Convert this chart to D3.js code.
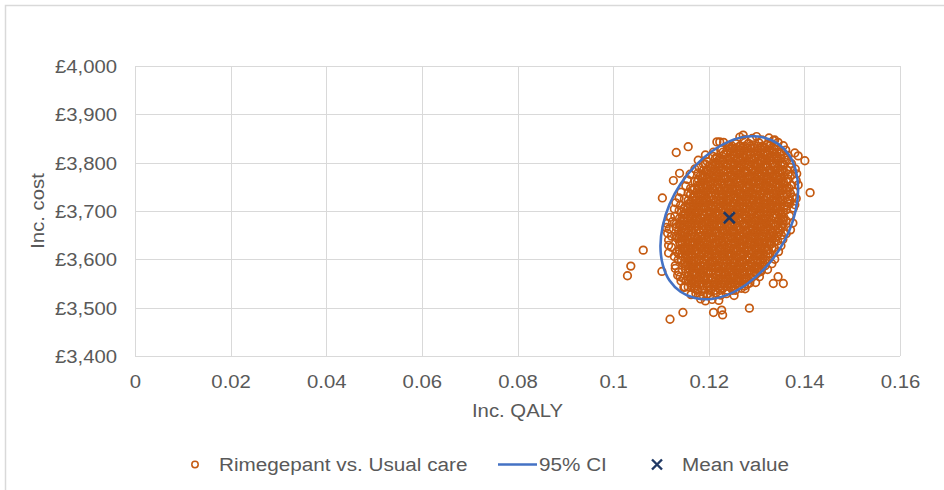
<!DOCTYPE html>
<html><head><meta charset="utf-8">
<script src="https://cdn.jsdelivr.net/npm/d3@7"></script>
<style>
html,body{margin:0;padding:0;background:#fff;}
svg{display:block;font-family:"Liberation Sans",Arial,sans-serif;}
</style></head>
<body><svg id="chart" width="944" height="490"></svg>
<script>
const xTicks = [0,0.02,0.04,0.06,0.08,0.1,0.12,0.14,0.16];
const yTicks = [3400,3500,3600,3700,3800,3900,4000];
const seriesNames = ["Rimegepant vs. Usual care","95% CI","Mean value"];
const meanQaly = [0.1243];
const meanCost = [3686];
const ciQaly = [0.1387,0.1382,0.1368,0.1345,0.1315,0.1280,0.1243,0.1206,0.1171,0.1141,0.1118,0.1104,0.1099,0.1104,0.1118,0.1141,0.1171,0.1206,0.1243,0.1280,0.1315,0.1345,0.1368,0.1382];
const ciCost = [3745,3784,3816,3839,3852,3854,3844,3823,3793,3756,3714,3670,3627,3588,3556,3533,3520,3518,3528,3549,3579,3616,3658,3702];
// simulated points [Inc. QALY, Inc. cost]
const samples = [
[0.1265,3853],[0.1274,3848],[0.1291,3850],[0.1300,3854],[0.1311,3847],[0.1326,3851],[0.1335,3846],
[0.1231,3842],[0.1242,3835],[0.1257,3839],[0.1266,3834],[0.1283,3840],[0.1294,3837],[0.1305,3841],[0.1322,3838],[0.1329,3836],[0.1345,3842],[0.1356,3835],
[0.1210,3822],[0.1227,3828],[0.1238,3825],[0.1249,3829],[0.1266,3826],[0.1273,3824],[0.1289,3830],[0.1300,3823],[0.1310,3827],[0.1327,3825],[0.1337,3828],[0.1351,3822],[0.1361,3826],
[0.1193,3816],[0.1209,3813],[0.1217,3811],[0.1232,3817],[0.1244,3810],[0.1253,3814],[0.1271,3812],[0.1280,3815],[0.1295,3809],[0.1304,3813],[0.1322,3816],[0.1331,3811],[0.1343,3814],[0.1358,3810],[0.1366,3815],
[0.1178,3805],[0.1188,3798],[0.1197,3802],[0.1215,3800],[0.1224,3803],[0.1239,3797],[0.1248,3801],[0.1266,3804],[0.1275,3799],[0.1287,3802],[0.1302,3798],[0.1310,3803],[0.1327,3804],[0.1337,3799],[0.1353,3801],[0.1363,3805],[0.1373,3798],
[0.1171,3787],[0.1180,3790],[0.1195,3784],[0.1204,3788],[0.1222,3791],[0.1231,3786],[0.1243,3789],[0.1258,3785],[0.1266,3790],[0.1283,3791],[0.1293,3786],[0.1309,3788],[0.1319,3792],[0.1329,3785],[0.1345,3789],[0.1353,3784],[0.1371,3790],[0.1381,3787],
[0.1161,3776],[0.1178,3779],[0.1188,3774],[0.1199,3777],[0.1215,3773],[0.1222,3778],[0.1240,3779],[0.1249,3774],[0.1266,3776],[0.1275,3780],[0.1286,3773],[0.1301,3777],[0.1310,3772],[0.1327,3778],[0.1338,3775],[0.1349,3779],[0.1366,3776],[0.1373,3774],[0.1384,3777],
[0.1155,3765],[0.1171,3761],[0.1178,3766],[0.1196,3767],[0.1205,3762],[0.1222,3764],[0.1231,3768],[0.1242,3761],[0.1257,3765],[0.1266,3763],[0.1283,3766],[0.1294,3760],[0.1305,3764],[0.1322,3767],[0.1329,3762],[0.1345,3765],[0.1356,3761],[0.1366,3766],[0.1383,3763],
[0.1152,3752],[0.1162,3747],[0.1178,3753],[0.1188,3750],[0.1198,3754],[0.1214,3751],[0.1222,3749],[0.1240,3755],[0.1250,3748],[0.1262,3752],[0.1278,3750],[0.1286,3753],[0.1301,3747],[0.1313,3751],[0.1322,3754],[0.1340,3749],[0.1349,3752],[0.1364,3748],[0.1373,3753],[0.1387,3754],
[0.1142,3739],[0.1157,3737],[0.1166,3743],[0.1183,3736],[0.1194,3740],[0.1205,3738],[0.1222,3741],[0.1229,3735],[0.1245,3739],[0.1256,3742],[0.1266,3737],[0.1283,3740],[0.1293,3736],[0.1307,3741],[0.1317,3742],[0.1334,3737],[0.1344,3739],[0.1355,3743],[0.1371,3736],[0.1378,3740],
[0.1138,3727],[0.1149,3725],[0.1166,3728],[0.1173,3722],[0.1189,3726],[0.1200,3729],[0.1210,3724],[0.1227,3727],[0.1237,3723],[0.1251,3728],[0.1261,3729],[0.1278,3724],[0.1288,3726],[0.1299,3730],[0.1315,3723],[0.1322,3727],[0.1340,3722],[0.1349,3728],[0.1366,3725],[0.1375,3729],[0.1383,3726],
[0.1131,3717],[0.1141,3712],[0.1158,3715],[0.1168,3711],[0.1182,3716],[0.1192,3717],[0.1209,3712],[0.1219,3714],[0.1230,3718],[0.1246,3711],[0.1253,3715],[0.1271,3710],[0.1280,3716],[0.1297,3713],[0.1306,3717],[0.1317,3714],[0.1332,3712],[0.1341,3718],[0.1358,3711],[0.1369,3715],[0.1380,3713],
[0.1128,3704],[0.1138,3701],[0.1148,3705],[0.1164,3702],[0.1172,3700],[0.1190,3706],[0.1200,3699],[0.1212,3703],[0.1228,3701],[0.1236,3704],[0.1251,3698],[0.1263,3702],[0.1272,3705],[0.1290,3700],[0.1299,3703],[0.1314,3699],[0.1323,3704],[0.1341,3705],[0.1350,3700],[0.1362,3702],[0.1377,3706],
[0.1120,3687],[0.1129,3689],[0.1147,3693],[0.1156,3686],[0.1168,3690],[0.1183,3685],[0.1191,3691],[0.1208,3688],[0.1218,3692],[0.1234,3689],[0.1244,3687],[0.1254,3693],[0.1270,3686],[0.1278,3690],[0.1296,3688],[0.1306,3691],[0.1318,3685],[0.1334,3689],[0.1342,3692],[0.1357,3687],[0.1369,3690],
[0.1113,3674],[0.1124,3678],[0.1140,3673],[0.1147,3679],[0.1165,3676],[0.1174,3680],[0.1191,3677],[0.1200,3675],[0.1211,3681],[0.1226,3674],[0.1235,3678],[0.1252,3676],[0.1263,3679],[0.1274,3673],[0.1291,3677],[0.1298,3680],[0.1314,3675],[0.1325,3678],[0.1335,3674],[0.1352,3679],[0.1362,3680],[0.1376,3675],
[0.1111,3666],[0.1117,3663],[0.1132,3667],[0.1144,3664],[0.1153,3662],[0.1171,3668],[0.1180,3661],[0.1195,3665],[0.1204,3663],[0.1222,3666],[0.1231,3660],[0.1243,3664],[0.1258,3667],[0.1266,3662],[0.1283,3665],[0.1293,3661],[0.1309,3666],[0.1319,3667],[0.1329,3662],[0.1345,3664],[0.1353,3668],[0.1371,3661],
[0.1114,3654],[0.1122,3648],[0.1140,3652],[0.1150,3655],[0.1162,3650],[0.1178,3653],[0.1186,3649],[0.1201,3654],[0.1213,3655],[0.1222,3650],[0.1240,3652],[0.1249,3656],[0.1264,3649],[0.1273,3653],[0.1291,3651],[0.1300,3654],[0.1312,3648],[0.1327,3652],[0.1335,3655],[0.1352,3650],[0.1362,3653],
[0.1116,3640],[0.1133,3644],[0.1143,3637],[0.1157,3641],[0.1167,3636],[0.1184,3642],[0.1194,3639],[0.1205,3643],[0.1221,3640],[0.1228,3638],[0.1246,3644],[0.1255,3637],[0.1272,3641],[0.1281,3639],[0.1292,3642],[0.1307,3636],[0.1316,3640],[0.1333,3643],[0.1344,3638],[0.1355,3641],
[0.1116,3629],[0.1122,3625],[0.1140,3631],[0.1149,3624],[0.1166,3628],[0.1175,3626],[0.1186,3629],[0.1201,3623],[0.1210,3627],[0.1227,3630],[0.1238,3625],[0.1249,3628],[0.1266,3624],[0.1273,3629],[0.1289,3630],[0.1300,3625],[0.1310,3627],[0.1327,3631],[0.1337,3624],[0.1351,3628],
[0.1116,3613],[0.1133,3616],[0.1144,3612],[0.1155,3617],[0.1172,3618],[0.1179,3613],[0.1195,3615],[0.1206,3619],[0.1216,3612],[0.1233,3616],[0.1243,3611],[0.1257,3617],[0.1267,3614],[0.1284,3618],[0.1294,3615],[0.1305,3613],[0.1321,3619],[0.1328,3612],[0.1346,3616],
[0.1128,3606],[0.1136,3599],[0.1151,3603],[0.1163,3598],[0.1172,3604],[0.1190,3601],[0.1199,3605],[0.1214,3602],[0.1223,3600],[0.1241,3606],[0.1250,3599],[0.1262,3603],[0.1277,3601],[0.1285,3604],[0.1302,3598],[0.1312,3602],[0.1328,3605],[0.1338,3600],
[0.1130,3587],[0.1147,3591],[0.1156,3589],[0.1167,3592],[0.1182,3586],[0.1191,3590],[0.1208,3593],[0.1219,3588],[0.1230,3591],[0.1247,3587],[0.1254,3592],[0.1270,3593],[0.1281,3588],[0.1291,3590],[0.1308,3594],[0.1318,3587],[0.1332,3591],
[0.1130,3581],[0.1137,3574],[0.1151,3580],[0.1161,3577],[0.1178,3581],[0.1188,3578],[0.1199,3576],[0.1215,3582],[0.1222,3575],[0.1240,3579],[0.1249,3577],[0.1266,3580],[0.1275,3574],[0.1286,3578],[0.1301,3581],[0.1310,3576],[0.1323,3579],
[0.1135,3567],[0.1147,3561],[0.1156,3565],[0.1168,3568],[0.1183,3563],[0.1191,3566],[0.1208,3562],[0.1218,3567],[0.1234,3568],[0.1244,3563],[0.1254,3565],[0.1270,3569],[0.1278,3562],[0.1296,3566],[0.1306,3564],
[0.1142,3555],[0.1152,3556],[0.1163,3551],[0.1174,3553],[0.1191,3557],[0.1198,3550],[0.1214,3554],[0.1225,3549],[0.1235,3555],[0.1252,3552],[0.1262,3556],[0.1276,3553],[0.1286,3551],[0.1298,3552],
[0.1148,3542],[0.1157,3543],[0.1169,3540],[0.1178,3538],[0.1196,3544],[0.1205,3537],[0.1220,3541],[0.1229,3539],[0.1247,3542],[0.1256,3536],[0.1268,3540],[0.1276,3539],
[0.1163,3527],[0.1173,3530],[0.1189,3524],[0.1197,3528],[0.1215,3531],[0.1225,3526],[0.1237,3529],[0.1253,3525],
[0.1183,3518],[0.1193,3514],[0.1207,3517],[0.1221,3515],
[0.1132,3821],[0.1157,3833],[0.1103,3727],[0.1063,3619],[0.1037,3586],[0.1030,3566],[0.1119,3476],[0.1146,3490],
[0.1210,3490],[0.1227,3495],[0.1229,3485],[0.1285,3499],[0.1412,3738],[0.1401,3804],[0.1380,3820],[0.1387,3814],
[0.1356,3550],[0.1345,3564],[0.1335,3550],[0.1272,3857],[0.1223,3843],[0.1217,3843],[0.1338,3847],[0.1102,3575],
[0.1140,3564],[0.1150,3543],[0.1168,3550],[0.1182,3526],[0.1203,3526],[0.1126,3763],[0.1139,3778]
];
// dense core of the cloud: [Inc. cost, [Inc. QALY ...]]
const coreRows = [
[3834,[0.1239,0.1249,0.1264,0.1275,0.1287,0.1301,0.1312,0.1326,0.1337]],
[3830,[0.1245,0.1256,0.1268,0.1281,0.1295,0.1306,0.1318,0.1331]],
[3822,[0.1230,0.1245,0.1256,0.1268,0.1282,0.1294,0.1307,0.1318,0.1332,0.1343]],
[3818,[0.1237,0.1251,0.1263,0.1274,0.1288,0.1301,0.1313,0.1324,0.1338,0.1350]],
[3809,[0.1214,0.1224,0.1239,0.1250,0.1262,0.1276,0.1288,0.1299,0.1314,0.1325,0.1337,0.1351]],
[3805,[0.1220,0.1231,0.1243,0.1257,0.1269,0.1280,0.1294,0.1307,0.1319,0.1330,0.1344]],
[3797,[0.1193,0.1207,0.1219,0.1230,0.1245,0.1256,0.1268,0.1282,0.1294,0.1307,0.1318,0.1332,0.1344,0.1355]],
[3793,[0.1201,0.1213,0.1224,0.1238,0.1251,0.1263,0.1274,0.1288,0.1301,0.1313,0.1324,0.1338,0.1351]],
[3784,[0.1189,0.1199,0.1214,0.1225,0.1237,0.1251,0.1263,0.1274,0.1289,0.1300,0.1312,0.1326,0.1338,0.1349,0.1364]],
[3780,[0.1195,0.1206,0.1218,0.1231,0.1245,0.1256,0.1268,0.1281,0.1295,0.1306,0.1318,0.1331,0.1345,0.1356]],
[3772,[0.1182,0.1193,0.1207,0.1219,0.1230,0.1245,0.1256,0.1268,0.1282,0.1294,0.1305,0.1320,0.1331,0.1343,0.1357]],
[3768,[0.1187,0.1200,0.1214,0.1225,0.1237,0.1250,0.1264,0.1275,0.1287,0.1300,0.1314,0.1325,0.1337,0.1350]],
[3760,[0.1176,0.1187,0.1201,0.1213,0.1224,0.1239,0.1250,0.1262,0.1276,0.1288,0.1299,0.1314,0.1325,0.1337,0.1351,0.1363]],
[3756,[0.1182,0.1194,0.1205,0.1219,0.1232,0.1244,0.1255,0.1269,0.1282,0.1294,0.1305,0.1319,0.1332,0.1344,0.1355]],
[3747,[0.1170,0.1180,0.1195,0.1206,0.1218,0.1232,0.1244,0.1255,0.1270,0.1281,0.1293,0.1307,0.1319,0.1330,0.1345,0.1356,0.1368]],
[3743,[0.1176,0.1188,0.1199,0.1213,0.1226,0.1238,0.1249,0.1263,0.1276,0.1288,0.1299,0.1313,0.1326,0.1338,0.1349,0.1363]],
[3735,[0.1162,0.1176,0.1188,0.1199,0.1214,0.1225,0.1237,0.1251,0.1263,0.1274,0.1289,0.1300,0.1312,0.1326,0.1338,0.1349,0.1364]],
[3731,[0.1170,0.1181,0.1193,0.1206,0.1220,0.1231,0.1243,0.1256,0.1270,0.1281,0.1293,0.1306,0.1320,0.1331,0.1343,0.1356]],
[3722,[0.1157,0.1168,0.1182,0.1194,0.1205,0.1220,0.1231,0.1243,0.1257,0.1269,0.1280,0.1295,0.1306,0.1318,0.1332,0.1344,0.1355,0.1370]],
[3718,[0.1164,0.1175,0.1187,0.1200,0.1214,0.1225,0.1237,0.1250,0.1264,0.1275,0.1287,0.1300,0.1314,0.1325,0.1337,0.1350,0.1364]],
[3710,[0.1151,0.1162,0.1176,0.1188,0.1199,0.1214,0.1225,0.1237,0.1251,0.1263,0.1274,0.1289,0.1300,0.1312,0.1326,0.1338,0.1349,0.1364]],
[3706,[0.1157,0.1169,0.1180,0.1194,0.1207,0.1219,0.1230,0.1244,0.1257,0.1269,0.1280,0.1294,0.1307,0.1319,0.1330,0.1344,0.1357]],
[3698,[0.1143,0.1157,0.1169,0.1180,0.1195,0.1206,0.1218,0.1232,0.1244,0.1255,0.1270,0.1281,0.1293,0.1307,0.1319,0.1330,0.1345,0.1356]],
[3694,[0.1151,0.1163,0.1174,0.1188,0.1201,0.1213,0.1224,0.1238,0.1251,0.1263,0.1274,0.1288,0.1301,0.1313,0.1324,0.1338,0.1351]],
[3685,[0.1139,0.1149,0.1164,0.1175,0.1187,0.1201,0.1213,0.1224,0.1239,0.1250,0.1262,0.1276,0.1288,0.1299,0.1314,0.1325,0.1337,0.1351]],
[3681,[0.1145,0.1156,0.1168,0.1181,0.1195,0.1206,0.1218,0.1231,0.1245,0.1256,0.1268,0.1281,0.1295,0.1306,0.1318,0.1331,0.1345,0.1356]],
[3673,[0.1132,0.1143,0.1157,0.1169,0.1180,0.1195,0.1206,0.1218,0.1232,0.1244,0.1255,0.1270,0.1281,0.1293,0.1307,0.1319,0.1330,0.1345,0.1356]],
[3669,[0.1139,0.1150,0.1162,0.1175,0.1189,0.1200,0.1212,0.1225,0.1239,0.1250,0.1262,0.1275,0.1289,0.1300,0.1312,0.1325,0.1339,0.1350]],
[3660,[0.1137,0.1151,0.1163,0.1174,0.1189,0.1200,0.1212,0.1226,0.1238,0.1249,0.1264,0.1275,0.1287,0.1301,0.1313,0.1324,0.1339,0.1350]],
[3656,[0.1145,0.1156,0.1168,0.1181,0.1195,0.1206,0.1218,0.1231,0.1245,0.1256,0.1268,0.1281,0.1295,0.1306,0.1318,0.1331,0.1344]],
[3648,[0.1132,0.1144,0.1155,0.1170,0.1181,0.1193,0.1207,0.1219,0.1230,0.1245,0.1256,0.1268,0.1282,0.1294,0.1305,0.1320,0.1331,0.1343]],
[3644,[0.1139,0.1150,0.1162,0.1175,0.1189,0.1200,0.1212,0.1225,0.1239,0.1250,0.1262,0.1275,0.1289,0.1300,0.1312,0.1325,0.1338]],
[3636,[0.1139,0.1150,0.1162,0.1176,0.1188,0.1199,0.1214,0.1225,0.1237,0.1251,0.1263,0.1274,0.1289,0.1300,0.1312,0.1326,0.1337]],
[3632,[0.1145,0.1156,0.1168,0.1181,0.1195,0.1206,0.1218,0.1231,0.1245,0.1256,0.1268,0.1281,0.1295,0.1306,0.1318,0.1331]],
[3623,[0.1145,0.1156,0.1168,0.1182,0.1194,0.1205,0.1220,0.1231,0.1243,0.1257,0.1269,0.1280,0.1295,0.1306,0.1318,0.1332]],
[3619,[0.1139,0.1150,0.1162,0.1175,0.1189,0.1200,0.1212,0.1225,0.1239,0.1250,0.1262,0.1275,0.1289,0.1300,0.1312,0.1325]],
[3611,[0.1137,0.1151,0.1163,0.1174,0.1189,0.1200,0.1212,0.1226,0.1238,0.1249,0.1264,0.1275,0.1287,0.1301,0.1313,0.1324]],
[3607,[0.1145,0.1156,0.1168,0.1181,0.1195,0.1206,0.1218,0.1231,0.1245,0.1256,0.1268,0.1281,0.1295,0.1306,0.1319]],
[3598,[0.1143,0.1157,0.1169,0.1180,0.1195,0.1206,0.1218,0.1232,0.1244,0.1255,0.1270,0.1281,0.1293,0.1307,0.1319]],
[3594,[0.1151,0.1163,0.1174,0.1188,0.1201,0.1213,0.1224,0.1238,0.1251,0.1263,0.1274,0.1288,0.1301,0.1313]],
[3586,[0.1151,0.1162,0.1176,0.1188,0.1199,0.1214,0.1225,0.1237,0.1251,0.1263,0.1274,0.1289,0.1300,0.1312]],
[3582,[0.1157,0.1169,0.1180,0.1194,0.1207,0.1219,0.1230,0.1244,0.1257,0.1269,0.1280,0.1294,0.1306]],
[3574,[0.1157,0.1168,0.1182,0.1194,0.1205,0.1220,0.1231,0.1243,0.1257,0.1269,0.1280,0.1295,0.1306]],
[3570,[0.1164,0.1175,0.1187,0.1200,0.1214,0.1225,0.1237,0.1250,0.1264,0.1275,0.1287,0.1300]],
[3561,[0.1162,0.1176,0.1188,0.1199,0.1214,0.1225,0.1237,0.1251,0.1263,0.1274,0.1289]],
[3557,[0.1157,0.1169,0.1181,0.1194,0.1207,0.1219,0.1231,0.1244,0.1257,0.1269,0.1281]],
[3549,[0.1170,0.1180,0.1195,0.1206,0.1218,0.1232,0.1244,0.1255,0.1270,0.1281]],
[3545,[0.1164,0.1175,0.1188,0.1200,0.1213,0.1225,0.1238,0.1250,0.1263,0.1275]],
[3536,[0.1176,0.1187,0.1201,0.1213,0.1224,0.1239,0.1250]]
];

const svg = d3.select("#chart");
const plot = {left:135, right:900, top:66, bottom:356};
const x = d3.scaleLinear().domain([0,0.16]).range([plot.left, plot.right]);
const y = d3.scaleLinear().domain([3400,4000]).range([plot.bottom, plot.top]);
const gridCol = "#D9D9D9", textCol = "#595959";
const orange = "#C55A11", blue = "#4472C4", navy = "#1F3864";
const SX = 1.07; // horizontal text stretch of the original picture

svg.append("rect").attr("x",5.5).attr("y",5.5).attr("width",960).attr("height",500)
  .attr("fill","#fff").attr("stroke","#D9D9D9").attr("stroke-width",1.5);

// gridlines
svg.append("g").selectAll("line").data(xTicks).join("line")
  .attr("x1",d=>Math.round(x(d))+0.5).attr("x2",d=>Math.round(x(d))+0.5)
  .attr("y1",plot.top).attr("y2",plot.bottom).attr("stroke",gridCol).attr("stroke-width",1);
svg.append("g").selectAll("line").data(yTicks).join("line")
  .attr("y1",d=>Math.round(y(d))+0.5).attr("y2",d=>Math.round(y(d))+0.5)
  .attr("x1",plot.left).attr("x2",plot.right).attr("stroke",gridCol).attr("stroke-width",1);

const xAxis = d3.axisBottom(x).tickValues(xTicks).tickSize(0).tickPadding(0).tickFormat(d=>String(+d.toFixed(2)));
const gx = svg.append("g").attr("transform",`translate(0,${plot.bottom})`).call(xAxis);
gx.select(".domain").remove();
gx.selectAll("text").attr("y",32).attr("dy",null).attr("font-size",19).attr("fill",textCol)
  .attr("font-family","'Liberation Sans',Arial,sans-serif").attr("transform",`scale(${SX},1)`);

const yAxis = d3.axisLeft(y).tickValues(yTicks).tickSize(0).tickPadding(0).tickFormat(d=>"£"+d3.format(",")(d));
const gy = svg.append("g").attr("transform",`translate(${plot.left},0)`).call(yAxis);
gy.select(".domain").remove();
gy.selectAll("text").attr("x",-18/SX).attr("dy","0.35em").attr("font-size",19).attr("fill",textCol)
  .attr("font-family","'Liberation Sans',Arial,sans-serif").attr("transform",`scale(${SX},1)`);

svg.append("text").attr("transform",`translate(${(plot.left+plot.right)/2},417) scale(${SX},1)`)
  .attr("text-anchor","middle").attr("font-size",19).attr("fill",textCol).text("Inc. QALY");
svg.append("text").attr("transform",`translate(44,${(plot.top+plot.bottom)/2}) rotate(-90) scale(${SX},1)`)
  .attr("text-anchor","middle").attr("font-size",19).attr("fill",textCol).text("Inc. cost");

// scatter
const allPts = samples.concat(coreRows.flatMap(r=>r[1].map(q=>[q,r[0]])));
svg.append("g").selectAll("circle").data(allPts).join("circle")
  .attr("cx",d=>x(d[0])).attr("cy",d=>y(d[1])).attr("r",3.8)
  .attr("fill","none").attr("stroke",orange).attr("stroke-width",1.7);

// CI ellipse
const ciPts = ciQaly.map((q,i)=>[q,ciCost[i]]);
const line = d3.line().x(d=>x(d[0])).y(d=>y(d[1])).curve(d3.curveCatmullRomClosed);
svg.append("path").attr("d",line(ciPts)).attr("fill","none").attr("stroke",blue).attr("stroke-width",2.6);

// mean
const cross = (g,cx,cy,s,w)=>{
  g.append("path").attr("d",`M${cx-s},${cy-s}L${cx+s},${cy+s}M${cx-s},${cy+s}L${cx+s},${cy-s}`)
   .attr("stroke",navy).attr("stroke-width",w).attr("fill","none");
};
meanQaly.forEach((q,i)=>cross(svg.append("g"), x(q), y(meanCost[i]), 5.5, 2.6));

// legend
const ly = 464.5;
const lg = svg.append("g");
lg.append("circle").attr("cx",195).attr("cy",ly).attr("r",3.2).attr("fill","none").attr("stroke",orange).attr("stroke-width",1.5);
function ltext(txt, px){
  lg.append("text").attr("transform",`translate(${px},${ly}) scale(1.09,1)`).attr("dy","0.35em")
    .attr("font-size",19).attr("fill",textCol).text(txt);
}
ltext(seriesNames[0],219);
lg.append("line").attr("x1",498).attr("x2",537).attr("y1",ly).attr("y2",ly).attr("stroke",blue).attr("stroke-width",2.6);
ltext(seriesNames[1],539);
cross(lg, 657, ly, 5, 2.4);
ltext(seriesNames[2],682);
</script></body></html>
